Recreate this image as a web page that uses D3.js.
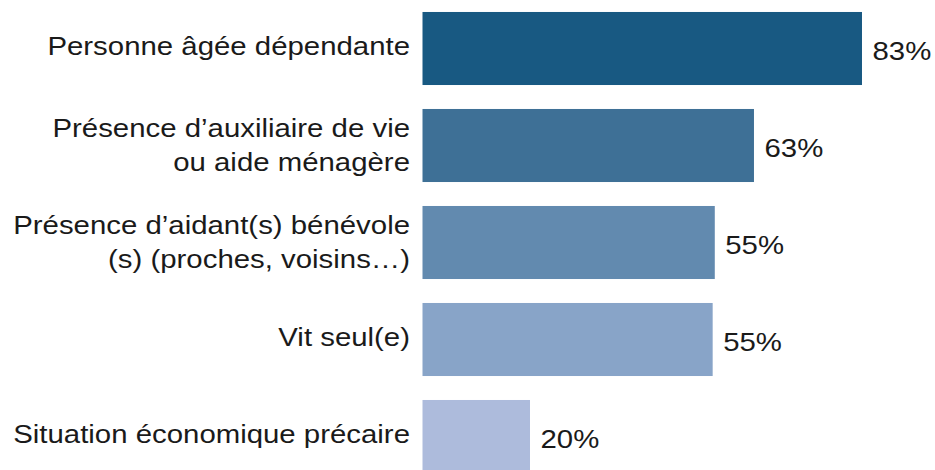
<!DOCTYPE html>
<html>
<head>
<meta charset="utf-8">
<script src="https://cdn.jsdelivr.net/npm/d3@7"></script>
<style>
html,body{margin:0;padding:0;background:#fff;}
svg{display:block;}
text{font-family:"Liberation Sans",Arial,sans-serif;fill:#1a1a1a;}
</style>
</head>
<body>
<svg id="chart" width="935" height="470"></svg>
<script>
const categories = [
  ["Personne âgée dépendante"],
  ["Présence d\u2019auxiliaire de vie", "ou aide ménagère"],
  ["Présence d\u2019aidant(s) bénévole", "(s) (proches, voisins\u2026)"],
  ["Vit seul(e)"],
  ["Situation économique précaire"]
];
const values = [83, 62.6, 55.2, 54.8, 20.3];
const valueLabels = ["83%", "63%", "55%", "55%", "20%"];
const colors = ["#185982", "#3e7096", "#628aaf", "#88a4c8", "#adbbdc"];

const svg = d3.select("#chart");
const keys = categories.map((c, i) => i);
const x = d3.scaleLinear().domain([0, 100]).range([422.5, 952]);
const y = d3.scaleBand().domain(keys).range([0, 485]).paddingInner(0.247).paddingOuter(0.1235);

const g = svg.append("g");
g.selectAll("rect").data(keys).join("rect")
  .attr("x", x(0))
  .attr("y", i => y(i))
  .attr("width", i => x(values[i]) - x(0))
  .attr("height", y.bandwidth())
  .attr("fill", i => colors[i]);

const fs = 26, sx = 1.13, lh = 35;
g.selectAll("text.cat").data(keys).join("text")
  .attr("class", "cat")
  .attr("text-anchor", "end")
  .style("font-size", fs + "px")
  .attr("transform", i => {
    const c = y(i) + y.bandwidth() / 2;
    const by = categories[i].length > 1 ? c - 9 : c + 6;
    return `translate(410,${by}) scale(${sx},1)`;
  })
  .each(function(i) {
    const t = d3.select(this);
    categories[i].forEach((ln, k) => {
      t.append("tspan").attr("x", 0).attr("y", k * lh).text(ln);
    });
  });

g.selectAll("text.val").data(keys).join("text")
  .attr("class", "val")
  .style("font-size", fs + "px")
  .attr("transform", i => `translate(${x(values[i]) + 10.5},${y(i) + y.bandwidth() / 2 + 11.5}) scale(${sx},1)`)
  .text(i => valueLabels[i]);
</script>
</body>
</html>
